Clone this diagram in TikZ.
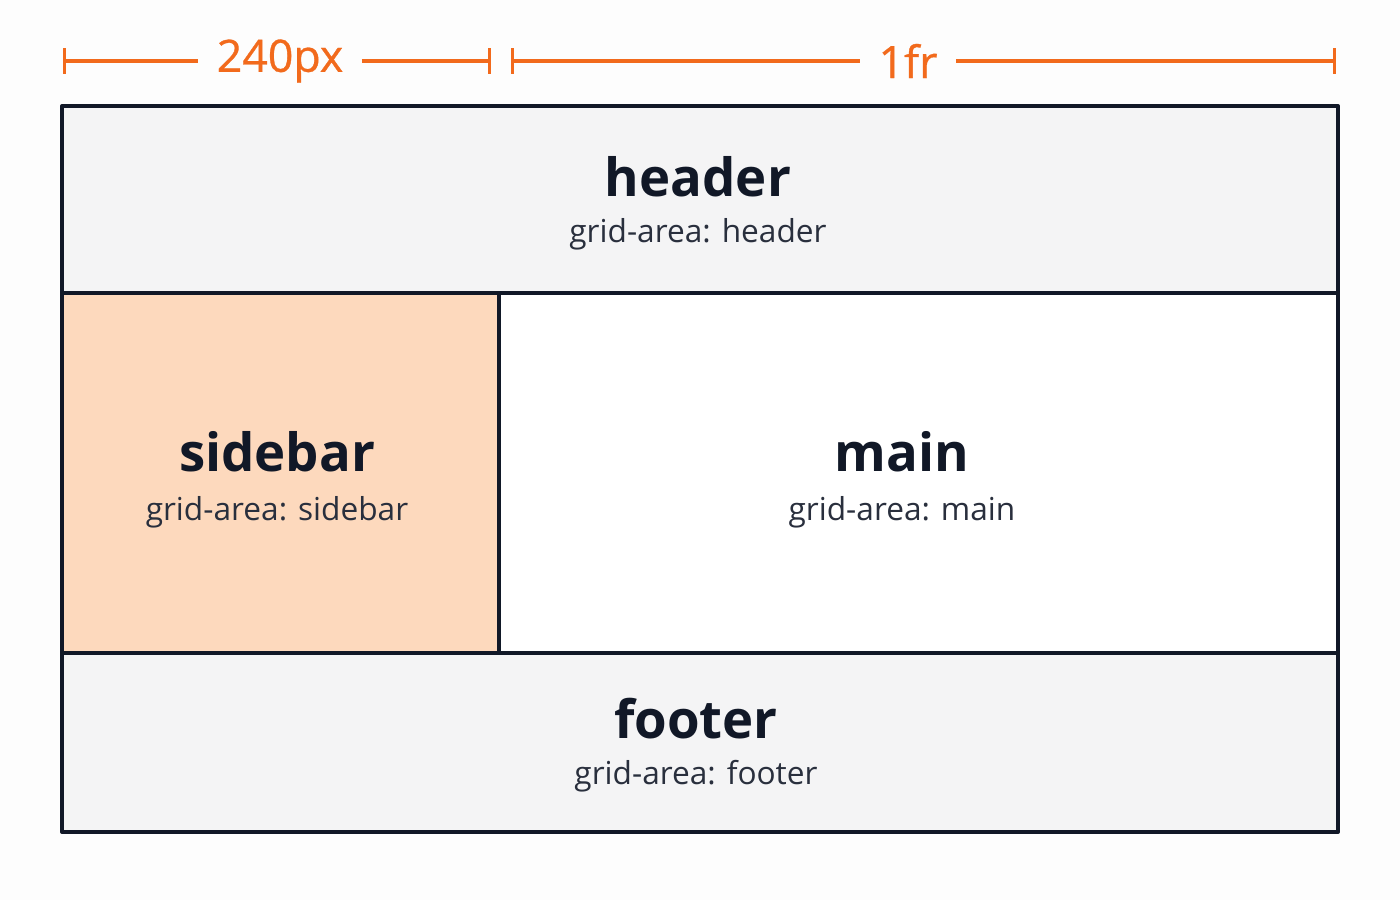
\documentclass[tikz,border=0pt]{standalone}
\usepackage{fontspec}
\setmainfont{Open Sans}
\newfontfamily\dimfont[FakeBold = 0.7]{Open Sans}
\definecolor{ink}{HTML}{111827}
\definecolor{dim}{HTML}{F26A1C}
\definecolor{band}{HTML}{F4F4F5}
\definecolor{side}{HTML}{FDD9BD}
\definecolor{page}{HTML}{FDFDFD}
\tikzset{
	areaname/.style = {font = \fontsize{15}{17}\selectfont\bfseries, text = ink, inner sep = 0pt},
	areasub/.style = {font = \fontsize{9}{11}\selectfont, text = ink!90, inner sep = 0pt},
	dimlabel/.style = {font = \dimfont\fontsize{12.7}{14}\selectfont, text = dim, inner sep = 0.18cm},
	dimline/.style = {dim, line width = 0.9pt},
	cell/.style = {ink, line width = 1.15pt}
}
\begin{document}
\begin{tikzpicture}

	\fill [page] (0, 0) rectangle (14, 9);
	\useasboundingbox (0, 0) rectangle (14, 9);

	% Grid areas
	
	\fill [band] (0.62, 6.07) rectangle (13.38, 7.94);
	\fill [side] (0.62, 2.47) rectangle (4.99, 6.07);
	\fill [white] (4.99, 2.47) rectangle (13.38, 6.07);
	\fill [band] (0.62, 0.68) rectangle (13.38, 2.47);
	
	\draw [cell] (0.62, 6.07) -- (13.38, 6.07);
	\draw [cell] (0.62, 2.47) -- (13.38, 2.47);
	\draw [cell] (4.99, 2.47) -- (4.99, 6.07);
	\draw [cell, line join = round] (0.62, 0.68) rectangle (13.38, 7.94);
	
	% Area labels
	
	\node [areaname] (header) at (6.98, 7.23) {header};
	\node [areasub] (headersub) at (6.98, 6.66) {grid-area: header};
	\node [areaname] (sidebar) at (2.77, 4.48) {sidebar};
	\node [areasub] (sidebarsub) at (2.77, 3.88) {grid-area: sidebar};
	\node [areaname] (main) at (9.02, 4.48) {main};
	\node [areasub] (mainsub) at (9.02, 3.88) {grid-area: main};
	\node [areaname] (footer) at (6.96, 1.81) {footer};
	\node [areasub] (footersub) at (6.96, 1.24) {grid-area: footer};
	
	% Column widths
	
	\coordinate (c0) at (0.63, 8.39);
	\coordinate (c1) at (4.91, 8.39);
	\coordinate (c2) at (5.11, 8.39);
	\coordinate (c3) at (13.36, 8.39);
	
	\node [dimlabel] (w240) at (2.80, 8.39) {240px};
	\node [dimlabel] (w1fr) at (9.08, 8.39) {1fr};
	
	\draw [dimline, |-] (c0) -- (w240.west);
	\draw [dimline, -|] (w240.east) -- (c1);
	\draw [dimline, |-] (c2) -- (w1fr.west);
	\draw [dimline, -|] (w1fr.east) -- (c3);
	
\end{tikzpicture}
\end{document}
